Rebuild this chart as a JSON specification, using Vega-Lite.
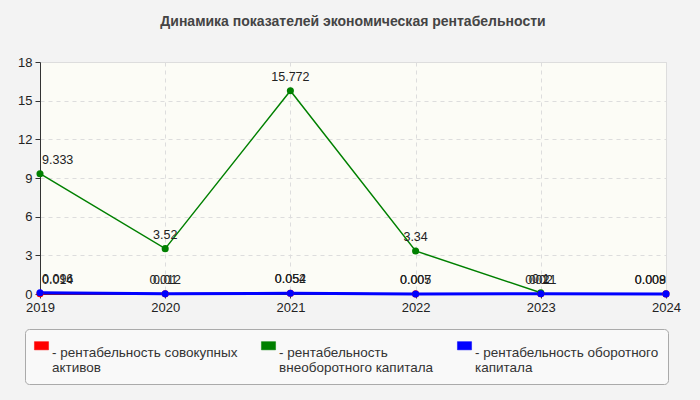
{
  "$schema": "https://vega.github.io/schema/vega-lite/v6.json",
  "width": 626,
  "height": 232,
  "autosize": {"type": "none"},
  "padding": {"left": 40, "top": 62, "right": 34, "bottom": 106},
  "background": "#f3f3f3",
  "title": {
    "text": "Динамика показателей экономическая рентабельности",
    "font": "Liberation Sans",
    "fontSize": 14,
    "fontWeight": "bold",
    "color": "#444444",
    "anchor": "middle",
    "offset": 27
  },
  "config": {
    "font": "Liberation Sans",
    "view": {"fill": "#fcfcf6", "stroke": "#dddddd"},
    "axis": {
      "labelFont": "Liberation Sans",
      "labelFontSize": 13,
      "labelColor": "#222222",
      "domainColor": "#333333",
      "tickColor": "#333333",
      "gridColor": "#dddddd",
      "gridDash": [4, 4],
      "title": null
    }
  },
  "data": {
    "values": [
      {"year": "2019", "series": "рентабельность совокупных активов", "value": 0.014},
      {"year": "2020", "series": "рентабельность совокупных активов", "value": 0.01},
      {"year": "2021", "series": "рентабельность совокупных активов", "value": 0.054},
      {"year": "2022", "series": "рентабельность совокупных активов", "value": 0.007},
      {"year": "2023", "series": "рентабельность совокупных активов", "value": 0.02},
      {"year": "2024", "series": "рентабельность совокупных активов", "value": 0.008},
      {"year": "2019", "series": "рентабельность внеоборотного капитала", "value": 9.333},
      {"year": "2020", "series": "рентабельность внеоборотного капитала", "value": 3.52},
      {"year": "2021", "series": "рентабельность внеоборотного капитала", "value": 15.772},
      {"year": "2022", "series": "рентабельность внеоборотного капитала", "value": 3.34},
      {"year": "2023", "series": "рентабельность внеоборотного капитала", "value": 0.1},
      {"year": "2019", "series": "рентабельность оборотного капитала", "value": 0.096},
      {"year": "2020", "series": "рентабельность оборотного капитала", "value": 0.012},
      {"year": "2021", "series": "рентабельность оборотного капитала", "value": 0.052},
      {"year": "2022", "series": "рентабельность оборотного капитала", "value": 0.005},
      {"year": "2023", "series": "рентабельность оборотного капитала", "value": 0.021},
      {"year": "2024", "series": "рентабельность оборотного капитала", "value": 0.009}
    ]
  },
  "encoding": {
    "x": {
      "field": "year",
      "type": "ordinal",
      "scale": {"type": "point", "padding": 0},
      "axis": {"labelAngle": 0, "tickSize": 4, "labelPadding": 3, "grid": true}
    },
    "y": {
      "field": "value",
      "type": "quantitative",
      "scale": {"domain": [0, 18], "nice": false},
      "axis": {"values": [0, 3, 6, 9, 12, 15, 18], "tickSize": 5, "labelPadding": 3}
    }
  },
  "layer": [
    {
      "mark": {"type": "line", "clip": false, "strokeWidth": 1.5},
      "encoding": {
        "color": {
          "field": "series",
          "type": "nominal",
          "scale": {
            "domain": ["рентабельность совокупных активов", "рентабельность внеоборотного капитала", "рентабельность оборотного капитала"],
            "range": ["#ff0000", "#008000", "#0000ff"]
          },
          "legend": {
            "orient": "none",
            "legendX": -15,
            "legendY": 267,
            "direction": "horizontal",
            "columns": 3,
            "columnPadding": 22,
            "title": null,
            "padding": 9,
            "fillColor": "#f9f9f9",
            "strokeColor": "#aaaaaa",
            "cornerRadius": 4,
            "symbolType": "M-1,-0.58L1,-0.58L1,0.58L-1,0.58Z",
            "symbolSize": 200,
            "symbolStrokeColor": "#888888",
            "symbolStrokeWidth": 0.5,
            "labelFont": "Liberation Sans",
            "labelFontSize": 13.5,
            "labelColor": "#333333",
            "labelLimit": 320,
            "labelOffset": 3,
            "labelBaseline": "top",
            "labelExpr": "datum.label == 'рентабельность совокупных активов' ? ['- рентабельность совокупных', '\u00a0\u00a0активов'] : datum.label == 'рентабельность внеоборотного капитала' ? ['- рентабельность', '\u00a0\u00a0внеоборотного капитала'] : ['- рентабельность оборотного', '\u00a0\u00a0капитала']"
          }
        }
      }
    },
    {
      "transform": [{"filter": "datum.series == 'рентабельность оборотного капитала'"}],
      "mark": {"type": "line", "clip": false, "strokeWidth": 3, "color": "#0000ff"},
      "encoding": {}
    },
    {
      "mark": {"type": "point", "filled": true, "opacity": 1, "clip": false},
      "encoding": {
        "color": {"field": "series", "type": "nominal", "legend": null},
        "size": {"value": 50}
      }
    },
    {
      "transform": [{"filter": "datum.year == '2019'"}],
      "mark": {"type": "text", "align": "left", "baseline": "bottom", "dx": 2, "dy": -7, "fontSize": 12.5, "color": "#222222"},
      "encoding": {"text": {"field": "value", "type": "nominal"}}
    },
    {
      "transform": [{"filter": "datum.year != '2019' && datum.year != '2024'"}],
      "mark": {"type": "text", "align": "center", "baseline": "bottom", "dy": -7, "fontSize": 12.5, "color": "#222222"},
      "encoding": {"text": {"field": "value", "type": "nominal"}}
    },
    {
      "transform": [{"filter": "datum.year == '2024'"}],
      "mark": {"type": "text", "align": "right", "baseline": "bottom", "dx": 0, "dy": -7, "fontSize": 12.5, "color": "#222222"},
      "encoding": {"text": {"field": "value", "type": "nominal"}}
    }
  ]
}
